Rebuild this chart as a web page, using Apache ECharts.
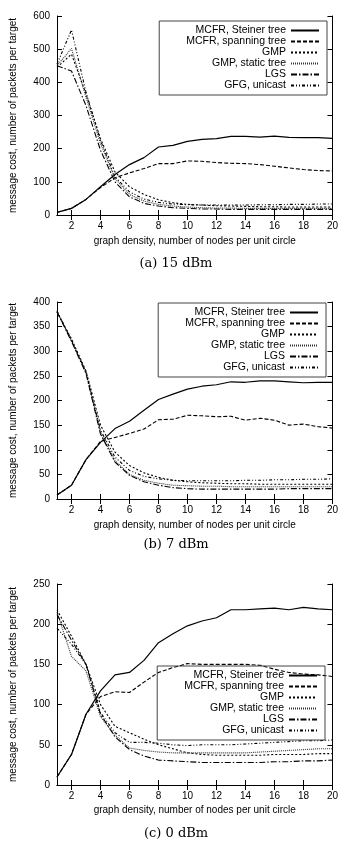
<!DOCTYPE html>
<html>
<head>
<meta charset="utf-8">
<script src="https://cdn.jsdelivr.net/npm/echarts@6/dist/echarts.min.js"></script>
<style>
html, body { margin: 0; padding: 0; background: #fff; }
#main { width: 341px; height: 844px; }
</style>
</head>
<body>
<div id="main"></div>
<script>
// graph density (nodes per unit circle)
const density = [1, 2, 3, 4, 5, 6, 7, 8, 9, 10, 11, 12, 13, 14, 15, 16, 17, 18, 19, 20]
const xTicks = [2, 4, 6, 8, 10, 12, 14, 16, 18, 20]
const names = ['MCFR, Steiner tree', 'MCFR, spanning tree', 'GMP', 'GMP, static tree', 'LGS', 'GFG, unicast']

// (a) 15 dBm
const steinerA = [8, 20, 47, 85, 122, 152, 173, 205, 210, 222, 228, 230, 237, 237, 235, 238, 234, 233, 233, 231]
const spanA = [8, 20, 47, 83, 112, 127, 140, 155, 155, 163, 162, 158, 156, 155, 152, 147, 142, 137, 134, 133]
const gmpA = [445, 485, 365, 230, 130, 85, 62, 46, 37, 32, 30, 28, 27, 26, 25, 25, 24, 24, 24, 24]
const staticA = [450, 502, 355, 215, 110, 62, 42, 32, 27, 24, 22, 21, 21, 20, 20, 20, 20, 20, 20, 20]
const lgsA = [450, 434, 330, 195, 100, 55, 35, 27, 22, 20, 18, 18, 17, 17, 17, 17, 17, 17, 17, 17]
const gfgA = [455, 558, 370, 225, 115, 70, 48, 38, 33, 31, 30, 30, 30, 30, 31, 31, 32, 32, 33, 33]

// (b) 7 dBm
const steinerB = [8, 28, 80, 115, 143, 158, 180, 202, 213, 223, 229, 232, 238, 237, 240, 240, 238, 236, 237, 237]
const spanB = [8, 28, 80, 117, 125, 133, 142, 161, 162, 170, 169, 167, 168, 160, 164, 160, 150, 152, 147, 144]
const gmpB = [380, 325, 260, 150, 95, 68, 53, 44, 38, 35, 33, 32, 31, 31, 30, 30, 30, 30, 30, 30]
const staticB = [380, 322, 257, 135, 78, 50, 38, 32, 28, 27, 26, 26, 25, 25, 25, 25, 25, 25, 25, 25]
const lgsB = [380, 320, 255, 132, 75, 48, 35, 28, 23, 21, 20, 20, 20, 20, 20, 20, 21, 21, 21, 21]
const gfgB = [382, 322, 258, 140, 85, 58, 46, 41, 38, 37, 37, 37, 37, 38, 38, 39, 39, 40, 40, 41]

// (c) 0 dBm
const steinerC = [10, 38, 88, 117, 137, 140, 155, 177, 188, 198, 204, 208, 218, 218, 219, 220, 218, 221, 219, 218]
const spanC = [10, 38, 88, 110, 116, 115, 128, 140, 146, 151, 150, 150, 150, 150, 149, 144, 140, 138, 137, 135]
const gmpC = [218, 185, 150, 100, 73, 65, 57, 50, 45, 40, 38, 37, 37, 37, 37, 38, 38, 38, 39, 39]
const staticC = [215, 160, 142, 85, 62, 46, 43, 41, 40, 40, 40, 40, 40, 40, 41, 42, 43, 44, 45, 45]
const lgsC = [212, 180, 150, 88, 60, 44, 36, 31, 30, 29, 28, 28, 28, 28, 28, 29, 29, 30, 30, 31]
const gfgC = [195, 175, 150, 90, 65, 53, 53, 52, 50, 49, 50, 50, 50, 51, 52, 53, 54, 55, 55, 56]

const panels = [
    [steinerA, spanA, gmpA, staticA, lgsA, gfgA],
    [steinerB, spanB, gmpB, staticB, lgsB, gfgB],
    [steinerC, spanC, gmpC, staticC, lgsC, gfgC],
]
const yMax = [600, 400, 250]
const yStep = [100, 50, 50]
const captions = ['(a) 15 dBm', '(b) 7 dBm', '(c) 0 dBm']

// layout
const grids = [
    { top: 16, height: 199 },
    { top: 302, height: 197 },
    { top: 584, height: 201 },
]
const legendPos = [
    { top: 21, right: 14, lh: 10.4 },
    { top: 303, right: 15, lh: 10.7 },
    { top: 666, right: 16, lh: 10.2 },
]
const captionY = [264, 545, 834]
const xNameGap = [21, 21, 20]

const font = 'Liberation Sans'
const lineTypes = ['solid', [4, 2], [2, 2], [1, 1], [6, 2, 1.5, 2], [3, 2, 1, 2, 1, 2]]
const lineColors = ['#000', '#000', '#000', '#333', '#000', '#000']

let chart = echarts.init(document.getElementById('main'))

let xAxes = []
let yAxes = []
let series = []
let legends = []
let graphics = []

grids.forEach((g, i) => {
    let tick = { inside: true, length: 5, lineStyle: { color: '#000' } }
    let line = { lineStyle: { color: '#000', width: 1 } }
    xAxes.push({
        gridIndex: i, type: 'value', min: 1, max: 20, position: 'bottom',
        axisLine: line,
        axisTick: { ...tick, customValues: xTicks },
        axisLabel: { customValues: xTicks, margin: 6, color: '#000', fontSize: 10, fontFamily: font },
        splitLine: { show: false },
        name: 'graph density, number of nodes per unit circle',
        nameLocation: 'middle', nameGap: xNameGap[i],
        nameTextStyle: { color: '#000', fontSize: 10, fontFamily: font },
    })
    xAxes.push({
        gridIndex: i, type: 'value', min: 1, max: 20, position: 'top',
        axisLine: line,
        axisTick: { ...tick, customValues: xTicks },
        axisLabel: { show: false },
        splitLine: { show: false },
    })
    yAxes.push({
        gridIndex: i, type: 'value', min: 0, max: yMax[i], interval: yStep[i], position: 'left',
        axisLine: { show: true, ...line },
        axisTick: { show: true, ...tick },
        axisLabel: { margin: 7, color: '#000', fontSize: 10, fontFamily: font },
        splitLine: { show: false },
        name: 'message cost, number of packets per target',
        nameLocation: 'middle', nameGap: 39,
        nameTextStyle: { color: '#000', fontSize: 10, fontFamily: font },
    })
    yAxes.push({
        gridIndex: i, type: 'value', min: 0, max: yMax[i], interval: yStep[i], position: 'right',
        axisLine: { show: true, ...line },
        axisTick: { show: true, ...tick },
        axisLabel: { show: false },
        splitLine: { show: false },
    })

    panels[i].forEach((vals, k) => {
        series.push({
            name: names[k],
            type: 'line',
            xAxisIndex: 2 * i,
            yAxisIndex: 2 * i,
            symbol: 'none',
            silent: true,
            itemStyle: { color: 'rgba(0,0,0,0)' },
            lineStyle: { color: lineColors[k], width: k === 0 ? 1.2 : 1.1, type: lineTypes[k] },
            data: density.map((x, j) => [x, vals[j]]),
        })
    })

    legends.push({
        data: names,
        orient: 'vertical',
        align: 'right',
        top: legendPos[i].top,
        right: legendPos[i].right,
        padding: [4, 7, 4, 27],
        itemGap: 0,
        itemWidth: 28,
        itemHeight: 10,
        selectedMode: false,
        itemStyle: { opacity: 0 },
        borderColor: '#444',
        borderWidth: 1,
        textStyle: { color: '#000', fontSize: 10.5, fontFamily: font, lineHeight: legendPos[i].lh },
    })

    graphics.push({
        type: 'text',
        x: 176, y: captionY[i],
        style: {
            text: captions[i],
            font: '13px "DejaVu Serif"',
            fill: '#000',
            align: 'center',
            verticalAlign: 'middle',
        },
    })
})

chart.setOption({
    animation: false,
    grid: grids.map((g) => ({ left: 52, right: 8, top: g.top, height: g.height })),
    xAxis: xAxes,
    yAxis: yAxes,
    legend: legends,
    series: series,
    graphic: graphics,
})
</script>
</body>
</html>
